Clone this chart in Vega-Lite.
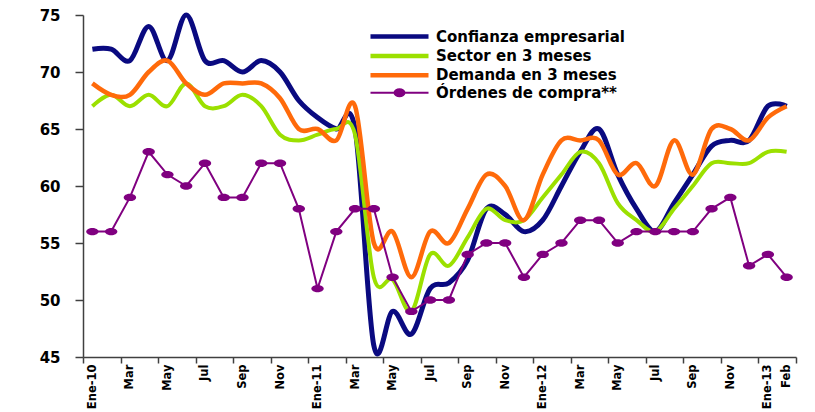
{
  "$schema": "https://vega.github.io/schema/vega-lite/v6.json",
  "width": 713,
  "height": 342,
  "autosize": {"type": "none"},
  "padding": {"left": 83, "top": 15, "right": 19, "bottom": 55},
  "background": "white",
  "config": {"view": {"stroke": null}, "font": "DejaVu Sans"},
  "data": {"values": [
    {"i": 0, "Confianza empresarial": 72, "Sector en 3 meses": 67, "Demanda en 3 meses": 69, "Órdenes de compra**": 56},
    {"i": 1, "Confianza empresarial": 72, "Sector en 3 meses": 68, "Demanda en 3 meses": 68, "Órdenes de compra**": 56},
    {"i": 2, "Confianza empresarial": 71, "Sector en 3 meses": 67, "Demanda en 3 meses": 68, "Órdenes de compra**": 59},
    {"i": 3, "Confianza empresarial": 74, "Sector en 3 meses": 68, "Demanda en 3 meses": 70, "Órdenes de compra**": 63},
    {"i": 4, "Confianza empresarial": 71, "Sector en 3 meses": 67, "Demanda en 3 meses": 71, "Órdenes de compra**": 61},
    {"i": 5, "Confianza empresarial": 75, "Sector en 3 meses": 69, "Demanda en 3 meses": 69, "Órdenes de compra**": 60},
    {"i": 6, "Confianza empresarial": 71, "Sector en 3 meses": 67, "Demanda en 3 meses": 68, "Órdenes de compra**": 62},
    {"i": 7, "Confianza empresarial": 71, "Sector en 3 meses": 67, "Demanda en 3 meses": 69, "Órdenes de compra**": 59},
    {"i": 8, "Confianza empresarial": 70, "Sector en 3 meses": 68, "Demanda en 3 meses": 69, "Órdenes de compra**": 59},
    {"i": 9, "Confianza empresarial": 71, "Sector en 3 meses": 67, "Demanda en 3 meses": 69, "Órdenes de compra**": 62},
    {"i": 10, "Confianza empresarial": 70, "Sector en 3 meses": 64.5, "Demanda en 3 meses": 67.7, "Órdenes de compra**": 62},
    {"i": 11, "Confianza empresarial": 67.5, "Sector en 3 meses": 64, "Demanda en 3 meses": 65, "Órdenes de compra**": 58},
    {"i": 12, "Confianza empresarial": 66, "Sector en 3 meses": 64.5, "Demanda en 3 meses": 65, "Órdenes de compra**": 51},
    {"i": 13, "Confianza empresarial": 65, "Sector en 3 meses": 65, "Demanda en 3 meses": 64, "Órdenes de compra**": 56},
    {"i": 14, "Confianza empresarial": 65, "Sector en 3 meses": 64.5, "Demanda en 3 meses": 67, "Órdenes de compra**": 58},
    {"i": 15, "Confianza empresarial": 46, "Sector en 3 meses": 52, "Demanda en 3 meses": 55, "Órdenes de compra**": 58},
    {"i": 16, "Confianza empresarial": 49, "Sector en 3 meses": 51.8, "Demanda en 3 meses": 56, "Órdenes de compra**": 52},
    {"i": 17, "Confianza empresarial": 47, "Sector en 3 meses": 49, "Demanda en 3 meses": 52, "Órdenes de compra**": 49},
    {"i": 18, "Confianza empresarial": 51, "Sector en 3 meses": 54, "Demanda en 3 meses": 56, "Órdenes de compra**": 50},
    {"i": 19, "Confianza empresarial": 51.5, "Sector en 3 meses": 53, "Demanda en 3 meses": 55, "Órdenes de compra**": 50},
    {"i": 20, "Confianza empresarial": 53.5, "Sector en 3 meses": 55.5, "Demanda en 3 meses": 58, "Órdenes de compra**": 54},
    {"i": 21, "Confianza empresarial": 58, "Sector en 3 meses": 58, "Demanda en 3 meses": 61, "Órdenes de compra**": 55},
    {"i": 22, "Confianza empresarial": 57.5, "Sector en 3 meses": 57, "Demanda en 3 meses": 60, "Órdenes de compra**": 55},
    {"i": 23, "Confianza empresarial": 56, "Sector en 3 meses": 57, "Demanda en 3 meses": 57, "Órdenes de compra**": 52},
    {"i": 24, "Confianza empresarial": 57, "Sector en 3 meses": 59, "Demanda en 3 meses": 61, "Órdenes de compra**": 54},
    {"i": 25, "Confianza empresarial": 60, "Sector en 3 meses": 61, "Demanda en 3 meses": 64, "Órdenes de compra**": 55},
    {"i": 26, "Confianza empresarial": 63, "Sector en 3 meses": 63, "Demanda en 3 meses": 64, "Órdenes de compra**": 57},
    {"i": 27, "Confianza empresarial": 65, "Sector en 3 meses": 62, "Demanda en 3 meses": 64, "Órdenes de compra**": 57},
    {"i": 28, "Confianza empresarial": 61, "Sector en 3 meses": 58.5, "Demanda en 3 meses": 61, "Órdenes de compra**": 55},
    {"i": 29, "Confianza empresarial": 58, "Sector en 3 meses": 57, "Demanda en 3 meses": 62, "Órdenes de compra**": 56},
    {"i": 30, "Confianza empresarial": 56, "Sector en 3 meses": 56, "Demanda en 3 meses": 60, "Órdenes de compra**": 56},
    {"i": 31, "Confianza empresarial": 58.5, "Sector en 3 meses": 58, "Demanda en 3 meses": 64, "Órdenes de compra**": 56},
    {"i": 32, "Confianza empresarial": 61, "Sector en 3 meses": 60, "Demanda en 3 meses": 61, "Órdenes de compra**": 56},
    {"i": 33, "Confianza empresarial": 63.5, "Sector en 3 meses": 62, "Demanda en 3 meses": 65, "Órdenes de compra**": 58},
    {"i": 34, "Confianza empresarial": 64, "Sector en 3 meses": 62, "Demanda en 3 meses": 65, "Órdenes de compra**": 59},
    {"i": 35, "Confianza empresarial": 64, "Sector en 3 meses": 62, "Demanda en 3 meses": 64, "Órdenes de compra**": 53},
    {"i": 36, "Confianza empresarial": 67, "Sector en 3 meses": 63, "Demanda en 3 meses": 66, "Órdenes de compra**": 54},
    {"i": 37, "Confianza empresarial": 67, "Sector en 3 meses": 63, "Demanda en 3 meses": 67, "Órdenes de compra**": 52}
  ]},
  "transform": [
    {"fold": ["Confianza empresarial", "Sector en 3 meses", "Demanda en 3 meses", "Órdenes de compra**"], "as": ["serie", "v"]}
  ],
  "encoding": {
    "y": {
      "field": "v", "type": "quantitative",
      "scale": {"domain": [45, 75], "nice": false, "zero": false},
      "axis": {"title": null, "values": [45, 50, 55, 60, 65, 70, 75], "grid": false,
        "domainColor": "#404040", "domainWidth": 1.5, "tickColor": "#404040", "tickWidth": 1.5, "tickSize": 8,
        "labelFont": "DejaVu Sans", "labelFontWeight": "bold", "labelFontSize": 15, "labelColor": "black", "labelPadding": 15}
    },
    "color": {
      "field": "serie", "type": "nominal",
      "scale": {"domain": ["Confianza empresarial", "Sector en 3 meses", "Demanda en 3 meses", "Órdenes de compra**"],
                "range": ["#0a0a80", "#9be000", "#ff6a0a", "#800080"]},
      "legend": {
        "title": null, "orient": "none", "legendX": 309, "legendY": 14, "padding": 0,
        "symbolType": "M-3,0L3,0", "symbolSize": 374, "symbolStrokeWidth": 4.5,
        "labelFont": "DejaVu Sans", "labelFontWeight": "bold", "labelFontSize": 15, "labelColor": "black",
        "labelOffset": 29, "labelLimit": 400, "rowPadding": 0.4,
        "encode": {"symbols": {"update": {
          "shape": {"signal": "datum.value === 'Órdenes de compra**' ? 'M-3,0L3,0M-0.52,0A0.52,0.36 0 1,0 0.52,0A0.52,0.36 0 1,0 -0.52,0Z' : 'M-3,0L3,0'"},
          "strokeWidth": {"signal": "datum.value === 'Órdenes de compra**' ? 2 : 4.5"},
          "fill": {"signal": "datum.value === 'Órdenes de compra**' ? '#800080' : 'transparent'"}
        }}}
      }
    }
  },
  "layer": [
    {
      "transform": [{"filter": {"field": "serie", "equal": "Confianza empresarial"}}],
      "mark": {"type": "line", "interpolate": "cardinal", "strokeWidth": 5},
      "encoding": {"x": {"field": "i", "type": "quantitative",
        "scale": {"domain": [-0.5, 37.5], "nice": false, "zero": false},
        "axis": {"title": null, "orient": "bottom", "grid": false, "ticks": false,
          "values": [0, 2, 4, 6, 8, 10, 12, 14, 16, 18, 20, 22, 24, 26, 28, 30, 32, 34, 36, 37],
          "labelExpr": "['Ene-10','Feb','Mar','Abr','May','Jun','Jul','Ago','Sep','Oct','Nov','Dic','Ene-11','Feb','Mar','Abr','May','Jun','Jul','Ago','Sep','Oct','Nov','Dic','Ene-12','Feb','Mar','Abr','May','Jun','Jul','Ago','Sep','Oct','Nov','Dic','Ene-13','Feb'][datum.value]",
          "labelAngle": 270, "labelAlign": "right", "labelBaseline": "middle", "labelPadding": 7,
          "labelOverlap": false, "labelFlush": false,
          "labelFont": "DejaVu Sans", "labelFontWeight": "bold", "labelFontSize": 11.5, "labelColor": "black",
          "domainColor": "#404040", "domainWidth": 1.5}}}
    },
    {
      "transform": [{"filter": {"field": "serie", "equal": "Sector en 3 meses"}}],
      "mark": {"type": "line", "interpolate": "cardinal", "strokeWidth": 4},
      "encoding": {"x": {"field": "i", "type": "quantitative",
        "scale": {"domain": [-0.5, 37.5], "nice": false, "zero": false},
        "axis": {"title": null, "orient": "bottom", "grid": false, "labels": false, "domain": false,
          "values": [-0.5, 1.5, 3.5, 5.5, 7.5, 9.5, 11.5, 13.5, 15.5, 17.5, 19.5, 21.5, 23.5, 25.5, 27.5, 29.5, 31.5, 33.5, 35.5, 37.5],
          "tickSize": 6, "tickColor": "#404040", "tickWidth": 1.5}}}
    },
    {
      "transform": [{"filter": {"field": "serie", "equal": "Demanda en 3 meses"}}],
      "mark": {"type": "line", "interpolate": "cardinal", "strokeWidth": 4.5},
      "encoding": {"x": {"field": "i", "type": "quantitative",
        "scale": {"domain": [-0.5, 37.5], "nice": false, "zero": false}, "axis": null}}
    },
    {
      "transform": [{"filter": {"field": "serie", "equal": "Órdenes de compra**"}}],
      "mark": {"type": "line", "strokeWidth": 2},
      "encoding": {"x": {"field": "i", "type": "quantitative",
        "scale": {"domain": [-0.5, 37.5], "nice": false, "zero": false}, "axis": null}}
    },
    {
      "transform": [{"filter": {"field": "serie", "equal": "Órdenes de compra**"}}],
      "mark": {"type": "point", "filled": true, "opacity": 1, "size": 154,
               "shape": "M-1,0A1,0.6 0 1,0 1,0A1,0.6 0 1,0 -1,0Z"},
      "encoding": {"x": {"field": "i", "type": "quantitative",
        "scale": {"domain": [-0.5, 37.5], "nice": false, "zero": false}, "axis": null}}
    }
  ],
  "resolve": {"axis": {"x": "independent"}}
}
